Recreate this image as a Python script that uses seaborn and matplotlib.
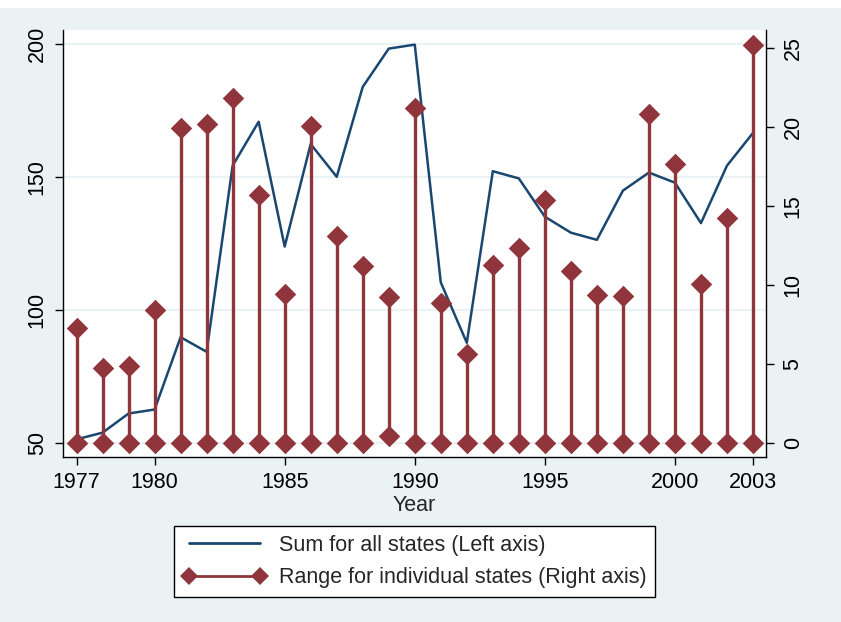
import matplotlib
matplotlib.use('Agg')
import matplotlib.pyplot as plt
import seaborn as sns
import pandas as pd
from matplotlib.lines import Line2D
from matplotlib.patches import Rectangle

# values
years = [1977, 1978, 1979, 1980, 1981, 1982, 1983, 1984, 1985, 1986, 1987, 1988, 1989,
         1990, 1991, 1992, 1993, 1994, 1995, 1996, 1997, 1998, 1999, 2000, 2001, 2002, 2003]
total_all_states = [51.5, 54.0, 61.2, 62.7, 89.9, 84.4, 154.4, 170.9, 124.0, 162.5, 150.2, 184.0, 198.4,
                    199.9, 110.5, 87.8, 152.3, 149.6, 135.2, 129.2, 126.5, 145.0, 151.8, 148.0, 132.8, 154.4, 166.7]
range_high = [7.27, 4.74, 4.91, 8.42, 19.92, 20.2, 21.82, 15.72, 9.41, 20.05, 13.09, 11.2, 9.26,
              21.19, 8.88, 5.65, 11.26, 12.35, 15.36, 10.88, 9.37, 9.33, 20.79, 17.68, 10.04, 14.21, 25.19]
range_low = [0, 0, 0, 0, 0, 0, 0, 0, 0, 0, 0, 0, 0.43,
             0, 0, 0, 0, 0, 0, 0, 0, 0, 0, 0, 0, 0, 0]

x_ticks = [1977, 1980, 1985, 1990, 1995, 2000, 2003]
left_ticks = [50, 100, 150, 200]
right_ticks = [0, 5, 10, 15, 20, 25]
labels = ['Sum for all states (Left axis)', 'Range for individual states (Right axis)']

BG = '#EAF2F3'
NAVY = '#1A476F'
MAROON = '#90353B'
FS = 15.5

df = pd.DataFrame({'year': years, 'total': total_all_states,
                   'low': range_low, 'high': range_high})

sns.set_style('white')
plt.rcParams['font.family'] = ['Liberation Sans', 'DejaVu Sans']

W, H = 841, 622
fig = plt.figure(figsize=(W / 100, H / 100), dpi=100, facecolor=BG)
fig.patches.append(Rectangle((0, 1 - 8 / H), 1, 8 / H, transform=fig.transFigure,
                             facecolor='white', edgecolor='none', zorder=-1))

ax = fig.add_axes([63 / W, 1 - 457 / H, (766 - 63) / W, (457 - 30) / H])
ax.set_facecolor('white')

# left axis: sum for all states
sns.lineplot(data=df, x='year', y='total', ax=ax, color=NAVY, lw=1.8)
ax.set_xlim(1976.48, 2003.5)
ax.set_ylim(44.85, 205.4)
ax.grid(axis='y', color=BG, lw=1.6)
ax.set_axisbelow(True)

# right axis: range for individual states
ax2 = ax.twinx()
ax2.vlines(df['year'], df['low'], df['high'], color=MAROON, lw=2.4)
sns.scatterplot(data=df, x='year', y='high', ax=ax2, marker='D', s=120,
                color=MAROON, linewidth=0)
sns.scatterplot(data=df, x='year', y='low', ax=ax2, marker='D', s=120,
                color=MAROON, linewidth=0)
ax2.set_ylim(-0.87, 26.12)

for a in (ax, ax2):
    a.spines['top'].set_visible(False)
    for s in a.spines.values():
        s.set_color('black')
        s.set_linewidth(1)
ax.spines['right'].set_visible(False)
ax2.spines['left'].set_visible(False)
ax2.spines['bottom'].set_visible(False)

ax.set_xticks(x_ticks)
ax.set_xticklabels([str(t) for t in x_ticks])
ax.set_yticks(left_ticks)
ax.set_yticklabels([str(t) for t in left_ticks], rotation=90, va='center')
ax2.set_yticks(right_ticks)
ax2.set_yticklabels([str(t) for t in right_ticks], rotation=90, va='center')

ax.tick_params(axis='both', bottom=True, left=True, direction='out', length=6,
               width=1, labelsize=FS, pad=5, colors='black')
ax2.tick_params(axis='y', right=True, direction='out', length=6, width=1,
                labelsize=FS, pad=6, colors='black')

ax.set_xlabel('Year', fontsize=FS, labelpad=1)
ax.set_ylabel('')
ax2.set_ylabel('')

handles = [Line2D([], [], color=NAVY, lw=2),
           Line2D([], [], color=MAROON, lw=2, marker='D', ms=9, mew=0)]
leg = fig.legend(handles, labels, loc='center', bbox_to_anchor=(414.5 / W, 1 - 561.5 / H),
                 frameon=True, fancybox=False, edgecolor='black', framealpha=1,
                 fontsize=FS, numpoints=2, handlelength=3.9, handletextpad=0.55,
                 borderpad=0.4, labelspacing=0.55, borderaxespad=0)
leg.get_frame().set_linewidth(1)

fig.savefig('out.png', dpi=100, facecolor=BG)
